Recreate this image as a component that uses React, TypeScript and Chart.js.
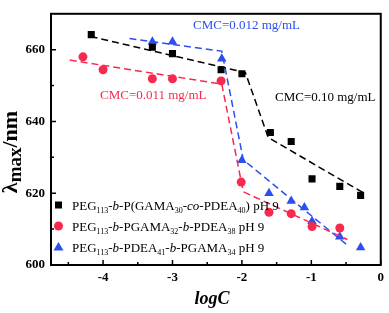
import React, { useEffect, useRef } from "react";
import { Chart, registerables } from "chart.js";

Chart.register(...registerables);

// ---- Data ----
const xBlack = [-4.17, -3.29, -3.0, -2.3, -2.0, -1.59, -1.29, -0.99, -0.59, -0.29];
const yBlack = [664.2, 660.7, 658.9, 654.4, 653.3, 636.9, 634.4, 624.0, 621.9, 619.4];
const xRed = [-4.29, -4.0, -3.29, -3.0, -2.3, -2.01, -1.61, -1.29, -0.99, -0.59];
const yRed = [658.0, 654.4, 651.9, 651.9, 651.3, 623.1, 614.7, 614.3, 610.7, 610.3];
const xBlue = [-3.29, -3.0, -2.29, -2.0, -1.61, -1.29, -1.1, -0.99, -0.59, -0.29];
const yBlue = [662.2, 662.2, 657.5, 629.2, 620.0, 617.8, 616.0, 612.2, 607.9, 604.9];

const xFitBlack = [-4.18, -1.95, -1.62, -0.24];
const yFitBlack = [663.7, 653.6, 635.5, 620.0];
const xFitRed = [-4.48, -2.29, -1.98, -0.48];
const yFitRed = [657.1, 650.4, 620.4, 607.1];
const xFitBlue = [-3.62, -2.29, -1.98, -0.48];
const yFitBlue = [663.1, 659.6, 629.3, 605.5];

const xTicks = [-4, -3, -2, -1, 0];
const xMinorTicks = [-4.5, -3.5, -2.5, -1.5, -0.5];
const yTicks = [600, 620, 640, 660];
const yMinorTicks = [610, 630, 650];

const BLACK = "#000000";
const RED = "#f8294f";
const BLUE = "#2b4ff0";
const SERIF = "'Liberation Serif', 'Times New Roman', serif";

type Seg = { t: string; sub?: boolean; it?: boolean };
const legendItems: { color: string; style: string; segs: Seg[] }[] = [
  {
    color: BLACK,
    style: "rect",
    segs: [
      { t: "PEG" }, { t: "113", sub: true }, { t: "-" }, { t: "b", it: true },
      { t: "-P(GAMA" }, { t: "30", sub: true }, { t: "-" }, { t: "co", it: true },
      { t: "-PDEA" }, { t: "40", sub: true }, { t: ") pH 9" },
    ],
  },
  {
    color: RED,
    style: "circle",
    segs: [
      { t: "PEG" }, { t: "113", sub: true }, { t: "-" }, { t: "b", it: true },
      { t: "-PGAMA" }, { t: "32", sub: true }, { t: "-" }, { t: "b", it: true },
      { t: "-PDEA" }, { t: "38", sub: true }, { t: " pH 9" },
    ],
  },
  {
    color: BLUE,
    style: "triangle",
    segs: [
      { t: "PEG" }, { t: "113", sub: true }, { t: "-" }, { t: "b", it: true },
      { t: "-PDEA" }, { t: "41", sub: true }, { t: "-" }, { t: "b", it: true },
      { t: "-PGAMA" }, { t: "34", sub: true }, { t: " pH 9" },
    ],
  },
];

const zip = (xs: number[], ys: number[]) => xs.map((x, i) => ({ x, y: ys[i] }));

const decorPlugin = {
  id: "decor",
  afterDraw(chart: any) {
    const { ctx, chartArea, scales } = chart;
    const xs = scales.x;
    const ys = scales.y;
    const { left, right, top, bottom } = chartArea;
    ctx.save();
    // frame
    ctx.strokeStyle = "#000";
    ctx.lineWidth = 2;
    ctx.strokeRect(left, top, right - left, bottom - top);
    // ticks (inward)
    ctx.lineWidth = 1.5;
    ctx.beginPath();
    xTicks.forEach((v) => {
      const px = xs.getPixelForValue(v);
      ctx.moveTo(px, bottom);
      ctx.lineTo(px, bottom - 5);
    });
    xMinorTicks.forEach((v) => {
      const px = xs.getPixelForValue(v);
      ctx.moveTo(px, bottom);
      ctx.lineTo(px, bottom - 3);
    });
    yTicks.forEach((v) => {
      const py = ys.getPixelForValue(v);
      ctx.moveTo(left, py);
      ctx.lineTo(left + 5, py);
    });
    yMinorTicks.forEach((v) => {
      const py = ys.getPixelForValue(v);
      ctx.moveTo(left, py);
      ctx.lineTo(left + 3, py);
    });
    ctx.stroke();

    // annotations
    ctx.textBaseline = "middle";
    ctx.textAlign = "left";
    ctx.font = `13px ${SERIF}`;
    ctx.fillStyle = BLUE;
    ctx.fillText("CMC=0.012 mg/mL", 193, 26);
    ctx.fillStyle = RED;
    ctx.fillText("CMC=0.011 mg/mL", 100, 96);
    ctx.fillStyle = BLACK;
    ctx.fillText("CMC=0.10 mg/mL", 275, 98);

    // legend
    const rows = [205, 226, 247];
    legendItems.forEach((item, i) => {
      const y = rows[i];
      ctx.fillStyle = item.color;
      ctx.beginPath();
      if (item.style === "rect") {
        ctx.rect(55, y - 3.5, 7, 7);
      } else if (item.style === "circle") {
        ctx.arc(58.5, y, 4.5, 0, Math.PI * 2);
      } else {
        ctx.moveTo(58.5, y - 5);
        ctx.lineTo(63.5, y + 3.5);
        ctx.lineTo(53.5, y + 3.5);
        ctx.closePath();
      }
      ctx.fill();
      ctx.fillStyle = "#000";
      ctx.textBaseline = "alphabetic";
      let x = 72;
      const base = y + 4.5;
      item.segs.forEach((s) => {
        if (s.sub) {
          ctx.font = `8px ${SERIF}`;
          ctx.fillText(s.t, x, base + 3);
        } else {
          ctx.font = `${s.it ? "italic " : ""}13px ${SERIF}`;
          ctx.fillText(s.t, x, base);
        }
        x += ctx.measureText(s.t).width;
      });
    });

    // x title
    ctx.fillStyle = "#000";
    ctx.font = `italic bold 18px ${SERIF}`;
    ctx.textAlign = "center";
    ctx.textBaseline = "alphabetic";
    ctx.fillText("logC", 212, 304);

    // y title (rotated)
    ctx.translate(17, 152);
    ctx.rotate(-Math.PI / 2);
    const mainF = `bold 22px ${SERIF}`;
    const subF = `bold 19px ${SERIF}`;
    ctx.font = mainF;
    const wL = ctx.measureText("λ").width;
    const wN = ctx.measureText("/nm").width;
    ctx.font = subF;
    const wM = ctx.measureText("max").width;
    let tx = -(wL + wM + wN) / 2;
    ctx.textAlign = "left";
    ctx.font = mainF;
    ctx.fillText("λ", tx, 0);
    tx += wL;
    ctx.font = subF;
    ctx.fillText("max", tx, 4);
    tx += wM;
    ctx.font = mainF;
    ctx.fillText("/nm", tx, 0);
    ctx.restore();
  },
};

export default function App() {
  const ref = useRef<HTMLCanvasElement>(null);
  useEffect(() => {
    if (!ref.current) return;
    const fitDs = (xs: number[], ys: number[], color: string) => ({
      data: zip(xs, ys),
      showLine: true,
      borderColor: color,
      borderWidth: 1.5,
      borderDash: [7, 4],
      pointRadius: 0,
      fill: false,
    });
    const ptDs = (xs: number[], ys: number[], color: string, style: string, r: number) => ({
      data: zip(xs, ys),
      showLine: false,
      backgroundColor: color,
      borderColor: color,
      borderWidth: 0,
      pointStyle: style,
      pointRadius: r,
    });
    const chart = new Chart(ref.current, {
      type: "scatter",
      data: {
        datasets: [
          fitDs(xFitBlack, yFitBlack, BLACK),
          fitDs(xFitRed, yFitRed, RED),
          fitDs(xFitBlue, yFitBlue, BLUE),
          ptDs(xBlack, yBlack, BLACK, "rect", 5),
          ptDs(xRed, yRed, RED, "circle", 4.5),
          ptDs(xBlue, yBlue, BLUE, "triangle", 5.5),
        ] as any,
      },
      options: {
        animation: false,
        responsive: true,
        maintainAspectRatio: false,
        layout: { padding: { top: 3, right: 5, left: 0, bottom: 0 } },
        plugins: { legend: { display: false }, tooltip: { enabled: false } },
        scales: {
          x: {
            type: "linear",
            min: -4.75,
            max: 0,
            grid: { display: false, drawTicks: false },
            border: { display: false },
            afterFit: (s: any) => { s.height = 48; },
            afterBuildTicks: (s: any) => { s.ticks = xTicks.map((v) => ({ value: v })); },
            ticks: {
              padding: 5,
              color: "#000",
              font: { family: SERIF, size: 13, weight: "bold" },
              callback: (v: any) => String(v),
            },
          },
          y: {
            type: "linear",
            min: 600,
            max: 670,
            grid: { display: false, drawTicks: false },
            border: { display: false },
            afterFit: (s: any) => { s.width = 51; },
            afterBuildTicks: (s: any) => { s.ticks = yTicks.map((v) => ({ value: v })); },
            ticks: {
              padding: 6,
              color: "#000",
              font: { family: SERIF, size: 13, weight: "bold" },
              callback: (v: any) => String(v),
            },
          },
        },
      } as any,
      plugins: [decorPlugin],
    });
    return () => chart.destroy();
  }, []);
  return (
    <div style={{ position: "fixed", left: 0, top: 0, width: 389, height: 313, background: "#fff" }}>
      <canvas ref={ref} />
    </div>
  );
}
